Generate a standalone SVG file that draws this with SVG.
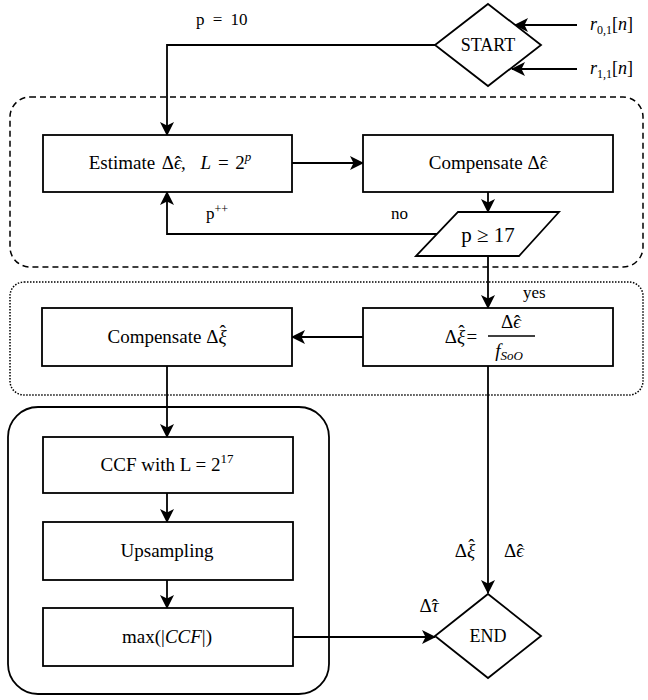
<svg xmlns="http://www.w3.org/2000/svg" width="648" height="700" viewBox="0 0 648 700">
<defs>
<marker id="ah" markerWidth="14" markerHeight="14" refX="13" refY="7" orient="auto" markerUnits="userSpaceOnUse">
<path d="M0,0 L14,7 L0,14 L3.5,7 z" fill="#000"/>
</marker>
</defs>
<rect x="10" y="97" width="633" height="170" rx="20" fill="none" stroke="#000" stroke-width="1.5" stroke-dasharray="6 4"/>
<rect x="10" y="282" width="633" height="113" rx="14" fill="none" stroke="#000" stroke-width="1.5" stroke-dasharray="1.5 1.5"/>
<rect x="8" y="407" width="321" height="287" rx="30" fill="none" stroke="#000" stroke-width="1.8"/>
<g id="connectors" fill="none" stroke="#000" stroke-width="1.8" marker-end="url(#ah)">
<path d="M435,45 H167 V135"/>
<path d="M577,25 H515"/>
<path d="M577,69 H512"/>
<path d="M292,163 H363"/>
<path d="M488,192 V212"/>
<path d="M437,234 H167 V192"/>
<path d="M488,256 V308"/>
<path d="M363,337 H292"/>
<path d="M167,366 V437"/>
<path d="M167,493 V522"/>
<path d="M167,580 V608"/>
<path d="M293,637 H435"/>
<path d="M488,366 V593"/>
</g>
<g id="labels">
<text font-family="Liberation Serif" font-size="17" x="196" y="25" word-spacing="4">p = 10</text>
<text font-family="Liberation Serif" font-size="17" x="206" y="219">p<tspan font-size="12" dy="-6">++</tspan></text>
<text font-family="Liberation Serif" font-size="17" x="391" y="219">no</text>
<text font-family="Liberation Serif" font-size="17" x="523" y="298">yes</text>
<text font-family="Liberation Serif" font-size="18" x="590" y="30"><tspan font-style="italic">r</tspan><tspan font-size="12" dy="4">0,1</tspan><tspan dy="-4">[</tspan><tspan font-style="italic">n</tspan>]</text>
<text font-family="Liberation Serif" font-size="18" x="590" y="74"><tspan font-style="italic">r</tspan><tspan font-size="12" dy="4">1,1</tspan><tspan dy="-4">[</tspan><tspan font-style="italic">n</tspan>]</text>
<text font-family="Liberation Serif" font-size="19" text-anchor="middle" x="465" y="557">Δ<tspan font-style="italic">ξ</tspan><tspan dx="-7" dy="-5">ˆ</tspan></text>
<text font-family="Liberation Serif" font-size="19" text-anchor="middle" x="514" y="557">Δ<tspan font-style="italic">ϵ</tspan><tspan dx="-7">ˆ</tspan></text>
<text font-family="Liberation Serif" font-size="19" text-anchor="middle" x="429" y="612">Δ<tspan font-style="italic">τ</tspan><tspan dx="-7">ˆ</tspan></text>
</g>
<g id="start">
<polygon points="488,4 541,45 488,86 435,45" fill="#fff" stroke="#000" stroke-width="1.8"/>
<text font-family="Liberation Serif" font-size="18" text-anchor="middle" x="488" y="51">START</text>
</g>
<g id="estimate">
<rect x="43" y="135" width="249" height="57" fill="#fff" stroke="#000" stroke-width="1.8"/>
<text font-family="Liberation Serif" font-size="19" text-anchor="middle" x="170" y="169" word-spacing="2">Estimate Δ<tspan font-style="italic">ϵ</tspan><tspan dx="-7">ˆ</tspan>,  <tspan font-style="italic" dx="8">L</tspan> = 2<tspan font-style="italic" font-size="13" dy="-8">p</tspan></text>
</g>
<g id="compensate-eps">
<rect x="363" y="135" width="250" height="57" fill="#fff" stroke="#000" stroke-width="1.8"/>
<text font-family="Liberation Serif" font-size="19" text-anchor="middle" x="488" y="169">Compensate Δ<tspan font-style="italic">ϵ</tspan><tspan dx="-7">ˆ</tspan></text>
</g>
<g id="decision">
<polygon points="458,212 559,212 519,256 416,256" fill="#fff" stroke="#000" stroke-width="1.8"/>
<text font-family="Liberation Serif" font-size="21" text-anchor="middle" x="488" y="242">p ≥ 17</text>
</g>
<g id="xi-calc">
<rect x="363" y="308" width="250" height="58" fill="#fff" stroke="#000" stroke-width="1.8"/>
<text font-family="Liberation Serif" font-size="19" text-anchor="middle" x="461" y="343">Δ<tspan font-style="italic">ξ</tspan><tspan dx="-7" dy="-5">ˆ</tspan><tspan dy="5" dx="2">=</tspan></text>
<line x1="488" y1="336" x2="535" y2="336" stroke="#000" stroke-width="1.4"/>
<text font-family="Liberation Serif" font-size="19" text-anchor="middle" x="511" y="328">Δ<tspan font-style="italic">ϵ</tspan><tspan dx="-7">ˆ</tspan></text>
<text font-family="Liberation Serif" font-size="19" text-anchor="middle" x="509" y="357"><tspan font-style="italic">f</tspan><tspan font-style="italic" font-size="13" dy="3">SoO</tspan></text>
</g>
<g id="compensate-xi">
<rect x="42" y="308" width="250" height="58" fill="#fff" stroke="#000" stroke-width="1.8"/>
<text font-family="Liberation Serif" font-size="19" text-anchor="middle" x="167" y="343">Compensate Δ<tspan font-style="italic">ξ</tspan><tspan dx="-7" dy="-5">ˆ</tspan></text>
</g>
<g id="ccf">
<rect x="43" y="437" width="250" height="56" fill="#fff" stroke="#000" stroke-width="1.8"/>
<text font-family="Liberation Serif" font-size="19" text-anchor="middle" x="167" y="471">CCF with L = 2<tspan font-size="13" dy="-8">17</tspan></text>
</g>
<g id="upsampling">
<rect x="43" y="522" width="250" height="58" fill="#fff" stroke="#000" stroke-width="1.8"/>
<text font-family="Liberation Serif" font-size="19" text-anchor="middle" x="167" y="557">Upsampling</text>
</g>
<g id="max">
<rect x="43" y="608" width="250" height="58" fill="#fff" stroke="#000" stroke-width="1.8"/>
<text font-family="Liberation Serif" font-size="19" text-anchor="middle" x="167" y="643">max(|<tspan font-style="italic">CCF</tspan>|)</text>
</g>
<g id="end">
<polygon points="488,594 541,636 488,678 435,636" fill="#fff" stroke="#000" stroke-width="1.8"/>
<text font-family="Liberation Serif" font-size="18" text-anchor="middle" x="488" y="642">END</text>
</g>
</svg>
